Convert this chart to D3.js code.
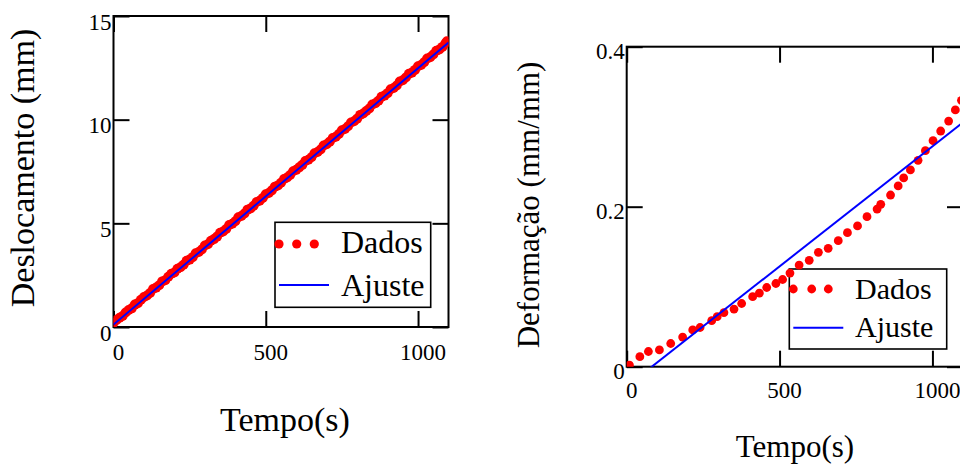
<!DOCTYPE html>
<html><head><meta charset="utf-8">
<script src="https://cdn.jsdelivr.net/npm/d3@7"></script>
<style>
body{margin:0;background:#fff}
svg{display:block}
text{font-family:"Liberation Serif","Times New Roman",serif;fill:#000}
</style>
</head><body>
<svg id="c" width="960" height="466"></svg>
<script>
// ---------- data ----------
const timeTicks = [0, 500, 1000];
const dispTicks = [0, 5, 10, 15];
const strainTicks = [0, 0.2, 0.4];
const strainTickLabels = ["0", "0.2", "0.4"];
const legendLabels = ["Dados", "Ajuste"];
const xTitle = "Tempo(s)";
const dispTitle = "Deslocamento (mm)";
const strainTitle = "Deformação (mm/mm)";

const dispTime = [0,10,20,30,40,50,60,70,80,90,100,110,120,130,140,150,160,170,180,190,200,210,220,230,240,250,260,270,280,290,300,310,320,330,340,350,360,370,380,390,400,410,420,430,440,450,460,470,480,490,500,510,520,530,540,550,560,570,580,590,600,610,620,630,640,650,660,670,680,690,700,710,720,730,740,750,760,770,780,790,800,810,820,830,840,850,860,870,880,890,900,910,920,930,940,950,960,970,980,990,1000,1010,1020,1030,1040,1050,1060,1070,1080,1090,1095];
const dispValues = [0.20,0.34,0.45,0.53,0.70,0.82,0.90,1.08,1.15,1.31,1.45,1.52,1.64,1.83,1.90,2.01,2.20,2.26,2.42,2.57,2.63,2.81,2.88,3.00,3.19,3.25,3.37,3.56,3.62,3.74,3.93,3.99,4.16,4.24,4.36,4.55,4.61,4.73,4.92,4.98,5.10,5.29,5.35,5.47,5.66,5.72,5.85,6.03,6.09,6.22,6.40,6.46,6.59,6.77,6.83,6.96,7.14,7.21,7.33,7.51,7.58,7.70,7.82,8.01,8.07,8.19,8.38,8.44,8.56,8.75,8.81,8.94,9.12,9.18,9.31,9.49,9.55,9.68,9.86,9.92,10.05,10.23,10.30,10.42,10.54,10.73,10.79,10.91,11.10,11.16,11.28,11.47,11.53,11.65,11.84,11.90,12.03,12.21,12.27,12.40,12.58,12.64,12.77,12.95,13.01,13.14,13.32,13.38,13.51,13.69,13.78];
const dispFitTime = [0, 1100];
const dispFitValues = [0.12, 13.72];

const strainTime = [9,43,71,107,144,183,216,240,278,296,318,351,376,412,434,458,488,510,534,564,597,627,659,692,722,755,786,819,831,863,888,906,928,953,977,1002,1027,1053,1075,1095];
const strainValues = [0.002,0.0125,0.019,0.021,0.029,0.037,0.046,0.049,0.0575,0.0625,0.0675,0.072,0.079,0.0875,0.092,0.099,0.104,0.109,0.117,0.127,0.133,0.143,0.148,0.1575,0.1675,0.176,0.1875,0.197,0.203,0.2146,0.226,0.236,0.246,0.258,0.27,0.2825,0.2946,0.307,0.321,0.333];
const strainFitTime = [0, 1100];
const strainFitValues = [-0.0246, 0.3054];

// ---------- drawing ----------
const svg = d3.select("#c");
const FONT = '"Liberation Serif","Times New Roman",serif';

function panel(o) {
  const g = svg.append("g");
  const x = d3.scaleLinear().domain([0, 1100]).range([o.left, o.right]);
  const y = d3.scaleLinear().domain(o.yDomain).range([o.bottom, o.top]);

  const clipId = "clip" + o.id;
  svg.append("clipPath").attr("id", clipId).append("rect")
    .attr("x", o.left).attr("y", o.top)
    .attr("width", o.right - o.left).attr("height", o.bottom - o.top);

  // legend box
  const lg = o.legend;
  g.append("rect").attr("x", lg.x0).attr("y", lg.y0)
    .attr("width", lg.x1 - lg.x0).attr("height", lg.y1 - lg.y0)
    .attr("fill", "#fff").attr("stroke", "#000").attr("stroke-width", 1.6);

  // axes
  const styleAxis = (a) => {
    a.select(".domain").remove();
    a.selectAll("line").attr("stroke", "#000").attr("stroke-width", 2);
    a.attr("font-size", o.tickFont).attr("font-family", FONT);
    a.selectAll("text").attr("fill", "#000");
  };
  const bottom = g.append("g").attr("transform", `translate(0,${o.bottom})`)
    .call(d3.axisBottom(x).tickValues(timeTicks).tickSize(-16).tickFormat(d3.format("d")));
  styleAxis(bottom);
  bottom.selectAll("text").attr("y", o.xLabelDy).attr("dy", 0).attr("dx", 4.5);

  const top = g.append("g").attr("transform", `translate(0,${o.top})`)
    .call(d3.axisTop(x).tickValues(timeTicks).tickSize(-16).tickFormat(""));
  styleAxis(top);

  const left = g.append("g").attr("transform", `translate(${o.left},0)`)
    .call(d3.axisLeft(y).tickValues(o.yTicks).tickSize(-16).tickFormat((d, i) => o.yLabels[i]));
  styleAxis(left);
  left.selectAll("text").attr("x", -2).attr("dy", 0).attr("y", o.yLabelDy);

  const right = g.append("g").attr("transform", `translate(${o.right},0)`)
    .call(d3.axisRight(y).tickValues(o.yTicks).tickSize(-16).tickFormat(""));
  styleAxis(right);

  // frame
  g.append("rect").attr("x", o.left).attr("y", o.top)
    .attr("width", o.right - o.left).attr("height", o.bottom - o.top)
    .attr("fill", "none").attr("stroke", "#000").attr("stroke-width", 2);

  // data
  const dg = g.append("g").attr("clip-path", `url(#${clipId})`);
  dg.selectAll("circle").data(o.dataX).join("circle")
    .attr("cx", d => x(d)).attr("cy", (d, i) => y(o.dataY[i]))
    .attr("r", o.r).attr("fill", "#ff0000");
  const line = d3.line().x(d => x(d[0])).y(d => y(d[1]));
  dg.append("path").datum(o.fitX.map((d, i) => [d, o.fitY[i]]))
    .attr("d", line).attr("fill", "none").attr("stroke", "#0000ff").attr("stroke-width", 2);

  // legend content
  lg.dots.forEach(cx => g.append("circle").attr("cx", cx).attr("cy", lg.dotY).attr("r", lg.r).attr("fill", "#ff0000"));
  g.append("line").attr("x1", lg.lx0).attr("x2", lg.lx1).attr("y1", lg.lineY).attr("y2", lg.lineY)
    .attr("stroke", "#0000ff").attr("stroke-width", 2);
  g.append("text").attr("x", lg.tx).attr("y", lg.t1y).attr("font-size", lg.font).text(legendLabels[0]);
  g.append("text").attr("x", lg.tx).attr("y", lg.t2y).attr("font-size", lg.font).text(legendLabels[1]);

  // titles
  g.append("text").attr("x", o.xTitleX).attr("y", o.xTitleY).attr("text-anchor", "middle")
    .attr("font-size", o.titleFont).text(xTitle);
  g.append("text").attr("transform", `translate(${o.yTitleX},${o.yTitleY}) rotate(-90)`)
    .attr("text-anchor", "middle").attr("font-size", o.titleFont).text(o.yTitle);
}

panel({
  id: "L", left: 113.5, right: 448.5, top: 16, bottom: 327,
  yDomain: [0, 15], yTicks: dispTicks, yLabels: dispTicks.map(String),
  tickFont: 23, xLabelDy: 33, yLabelDy: 13, r: 5,
  dataX: dispTime, dataY: dispValues, fitX: dispFitTime, fitY: dispFitValues,
  legend: {x0: 275, x1: 430.7, y0: 222.3, y1: 307.3, dots: [279, 296.7, 314.3], dotY: 244, r: 4.6,
           lx0: 279, lx1: 329, lineY: 285, tx: 341, t1y: 253, t2y: 296, font: 32},
  xTitleX: 285, xTitleY: 431, titleFont: 34,
  yTitle: dispTitle, yTitleX: 34, yTitleY: 168
});

panel({
  id: "R", left: 626.7, right: 963, top: 46.7, bottom: 366.7,
  yDomain: [0, 0.4], yTicks: strainTicks, yLabels: strainTickLabels,
  tickFont: 23, xLabelDy: 31, yLabelDy: 11.5, r: 4.4,
  dataX: strainTime, dataY: strainValues, fitX: strainFitTime, fitY: strainFitValues,
  legend: {x0: 789.3, x1: 946.7, y0: 269, y1: 349, dots: [793.3, 811.7, 828.3], dotY: 289, r: 4.4,
           lx0: 793.3, lx1: 843.3, lineY: 327.7, tx: 855, t1y: 299, t2y: 337, font: 30},
  xTitleX: 795, xTitleY: 456.5, titleFont: 31,
  yTitle: strainTitle, yTitleX: 539, yTitleY: 205
});
</script>
</body></html>
